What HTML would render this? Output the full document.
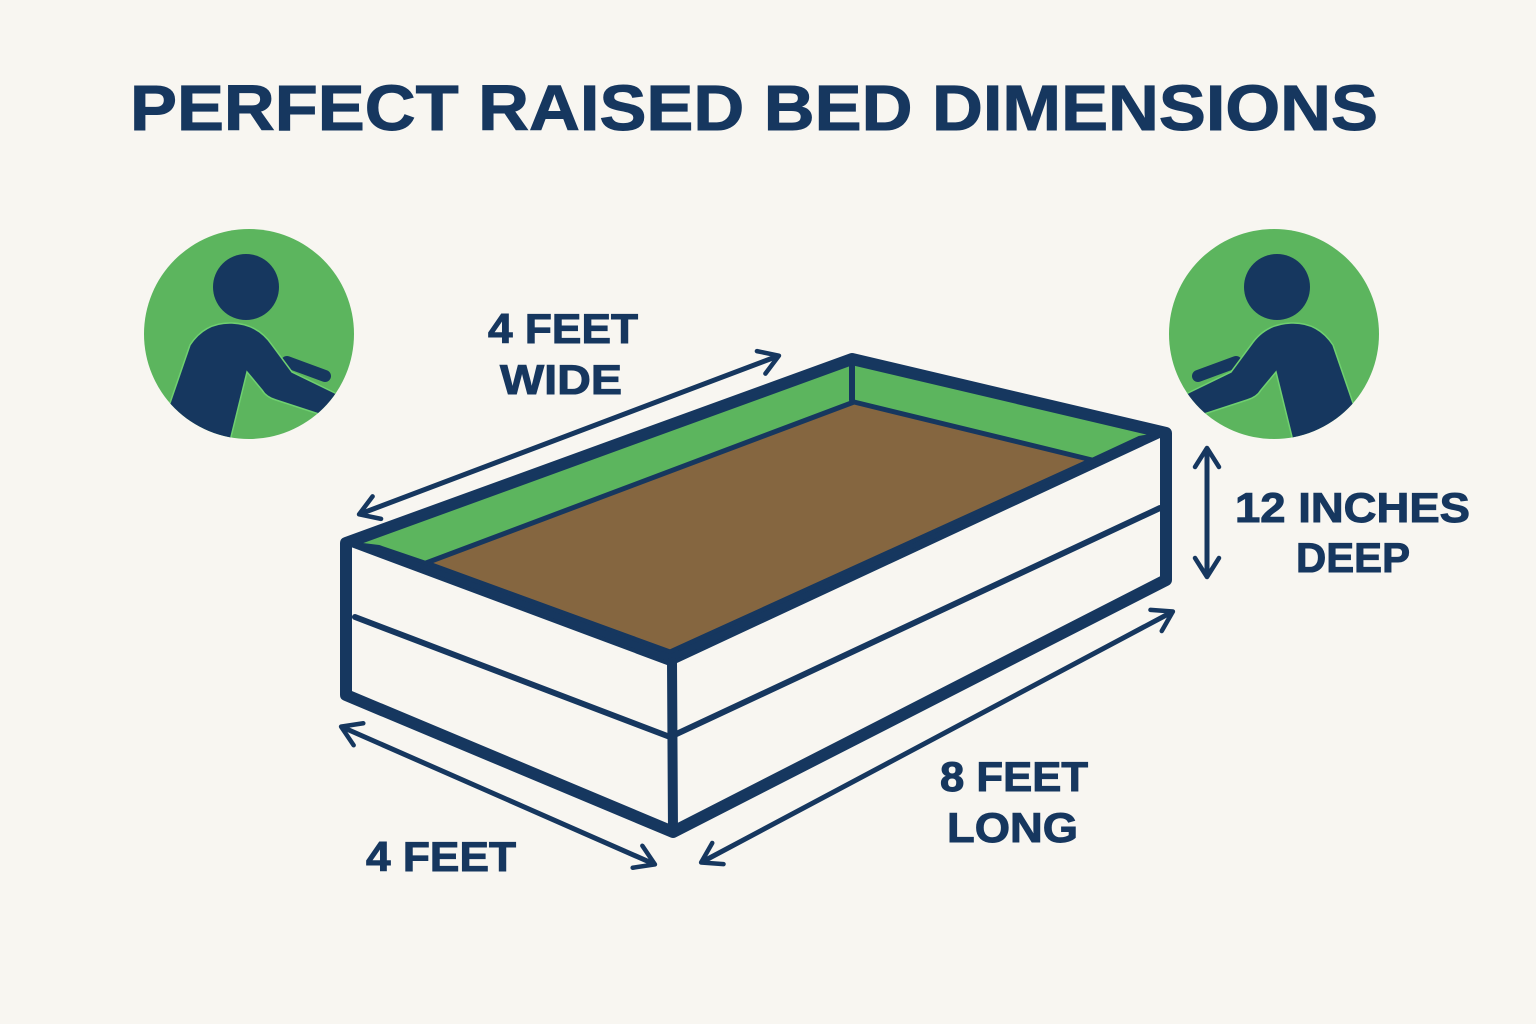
<!DOCTYPE html>
<html><head><meta charset="utf-8"><style>
html,body{margin:0;padding:0;background:#f8f6f1;}
svg{display:block;}
text{font-family:"Liberation Sans",sans-serif;font-weight:bold;fill:#16375f;stroke:#16375f;stroke-width:1;}
</style></head><body>
<svg width="1536" height="1024" viewBox="0 0 1536 1024" xmlns="http://www.w3.org/2000/svg">
<defs>
<clipPath id="cl"><circle cx="249" cy="334" r="105"/></clipPath>
<marker id="ah" viewBox="0 0 30 30" refX="22" refY="15" markerWidth="30" markerHeight="30" markerUnits="userSpaceOnUse" orient="auto-start-reverse">
<path d="M4,3 L23,15 L4,27" fill="none" stroke="#16375f" stroke-width="4.5" stroke-linecap="round" stroke-linejoin="round"/></marker>
<g id="person">
<circle cx="249" cy="334" r="105" fill="#5cb55e"/>
<g clip-path="url(#cl)">
<line x1="287" y1="362" x2="325" y2="376" stroke="#16375f" stroke-width="12" stroke-linecap="round"/>
<path d="M170,403 L190,345 Q205,322 232,323 Q258,324 272,345 L292,372 L335,393 Q347,400 343,410 Q338,420 328,417 L276,400 Q266,397 262,390 L247,372 L229,445 L160,445 Z" fill="#16375f" stroke="#6fd070" stroke-width="1.5"/>
</g>
<circle cx="246" cy="287" r="33" fill="#16375f"/>
</g>
</defs>
<text x="130" y="130" font-size="64" textLength="1248" lengthAdjust="spacingAndGlyphs" stroke-width="2">PERFECT RAISED BED DIMENSIONS</text>

<use href="#person"/>
<use href="#person" transform="translate(1523,0) scale(-1,1)"/>

<!-- box -->
<g stroke="#16375f" stroke-linejoin="round" stroke-linecap="round">
<polygon points="346,543 852,359 1166,433 670,662" fill="#5cb55e" stroke="none"/>
<polygon points="346,543 670,662 673,832 346,695" fill="#f8f6f1" stroke="none"/>
<polygon points="670,662 1166,433 1166,580 673,832" fill="#f8f6f1" stroke="none"/>
<polygon points="426,563 854,402 1092,460 670,652" fill="#856640" stroke-width="5"/>
<polygon points="346,543 379,547 426,563 670,652 1092,460 1139,438 1166,433 670,664" fill="#16375f" stroke-width="4"/>
<line x1="852" y1="366" x2="852" y2="400" stroke-width="6"/>
<line x1="355" y1="617" x2="670" y2="737" stroke-width="6"/>
<line x1="670" y1="737" x2="1160" y2="508" stroke-width="6"/>
<line x1="672" y1="662" x2="673" y2="832" stroke-width="10"/>
<polygon points="346,543 852,359 1166,433 1166,580 673,832 346,695" fill="none" stroke-width="12"/>
</g>

<!-- arrows -->
<g stroke="#16375f" stroke-width="5" fill="none" stroke-linecap="round">
<line x1="360" y1="514" x2="778" y2="356" marker-start="url(#ah)" marker-end="url(#ah)"/>
<line x1="342" y1="727" x2="654" y2="864" marker-start="url(#ah)" marker-end="url(#ah)"/>
<line x1="702" y1="862" x2="1172" y2="612" marker-start="url(#ah)" marker-end="url(#ah)"/>
<line x1="1207" y1="449" x2="1207" y2="576" marker-start="url(#ah)" marker-end="url(#ah)"/>
</g>

<text x="488" y="343" font-size="42" textLength="150" lengthAdjust="spacingAndGlyphs">4 FEET</text>
<text x="500" y="394" font-size="42" textLength="122" lengthAdjust="spacingAndGlyphs">WIDE</text>
<text x="1235" y="522" font-size="42" textLength="235" lengthAdjust="spacingAndGlyphs">12 INCHES</text>
<text x="1296" y="572" font-size="42" textLength="114" lengthAdjust="spacingAndGlyphs">DEEP</text>
<text x="940" y="791" font-size="42" textLength="148" lengthAdjust="spacingAndGlyphs">8 FEET</text>
<text x="947" y="842" font-size="42" textLength="131" lengthAdjust="spacingAndGlyphs">LONG</text>
<text x="366" y="871" font-size="42" textLength="150" lengthAdjust="spacingAndGlyphs">4 FEET</text>
</svg>
</body></html>
